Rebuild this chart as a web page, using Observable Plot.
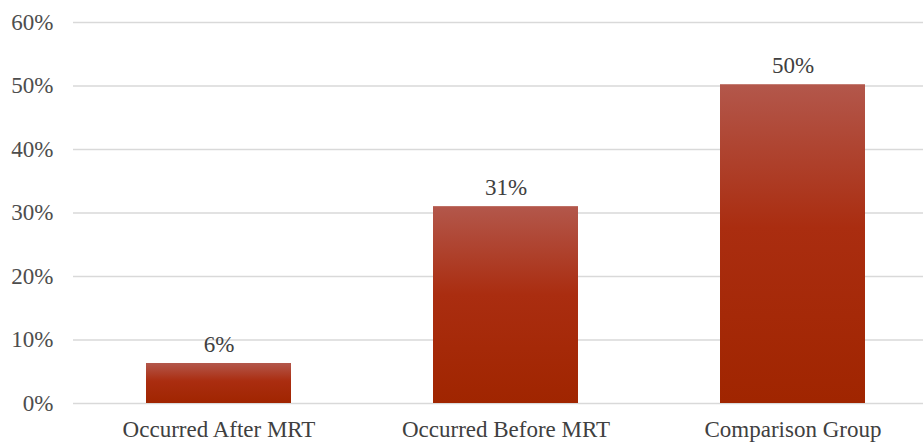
<!DOCTYPE html>
<html>
<head>
<meta charset="utf-8">
<script src="https://cdn.jsdelivr.net/npm/d3@7"></script>
<script src="https://cdn.jsdelivr.net/npm/@observablehq/plot@0.6"></script>
<style>
  html, body { margin: 0; padding: 0; background: #fff; font-family: "Liberation Serif", serif; }
  #chart svg { display: block; }
</style>
</head>
<body>
<div id="chart"></div>
<script>
const categories = ["Occurred After MRT", "Occurred Before MRT", "Comparison Group"];
const values = [6.3, 31.0, 50.2];
const valueLabels = ["6%", "31%", "50%"];
const yTicks = [0, 10, 20, 30, 40, 50, 60];

const data = categories.map((c, i) => ({category: c, value: values[i], label: valueLabels[i]}));

const serif = "'Liberation Serif', 'Times New Roman', serif";

const gradientDefs = () => {
  const ns = "http://www.w3.org/2000/svg";
  const defs = document.createElementNS(ns, "defs");
  const lg = document.createElementNS(ns, "linearGradient");
  lg.setAttribute("id", "barGrad");
  lg.setAttribute("x1", "0"); lg.setAttribute("y1", "0");
  lg.setAttribute("x2", "0"); lg.setAttribute("y2", "1");
  [["0%", "#b3574b"], ["45%", "#aa2d10"], ["100%", "#a02500"]].forEach(([o, c]) => {
    const s = document.createElementNS(ns, "stop");
    s.setAttribute("offset", o);
    s.setAttribute("stop-color", c);
    lg.appendChild(s);
  });
  defs.appendChild(lg);
  return defs;
};

const fs = 23;

const chart = Plot.plot({
  width: 923,
  height: 442,
  marginLeft: 73,
  marginRight: 0,
  marginTop: 22,
  marginBottom: 39,
  style: {fontSize: fs + "px", background: "#fff"},
  x: {domain: categories, range: [73.75, 936.25], paddingInner: 0.496, paddingOuter: 0.248, label: null},
  y: {domain: [0, 60], label: null},
  marks: [
    gradientDefs,
    Plot.ruleY(yTicks, {stroke: "#d9d9d9", strokeWidth: 1.5}),
    Plot.barY(data, {x: "category", y: "value", fill: "url(#barGrad)"}),
    Plot.text(data, {x: "category", y: "value", text: "label", dy: -19, fill: "#404040", fontSize: fs}),
    Plot.axisY({ticks: yTicks, tickSize: 0, tickPadding: 20, tickFormat: d => d + "%", fontSize: fs, fill: "#4d4d4d"}),
    Plot.axisX({tickSize: 0, tickPadding: 17, fontSize: fs, fill: "#404040"})
  ]
});

d3.select(chart).style("font-family", serif, "important");
d3.select(chart).selectAll("g, text").style("font-family", serif, "important");

document.getElementById("chart").appendChild(chart);
</script>
</body>
</html>
